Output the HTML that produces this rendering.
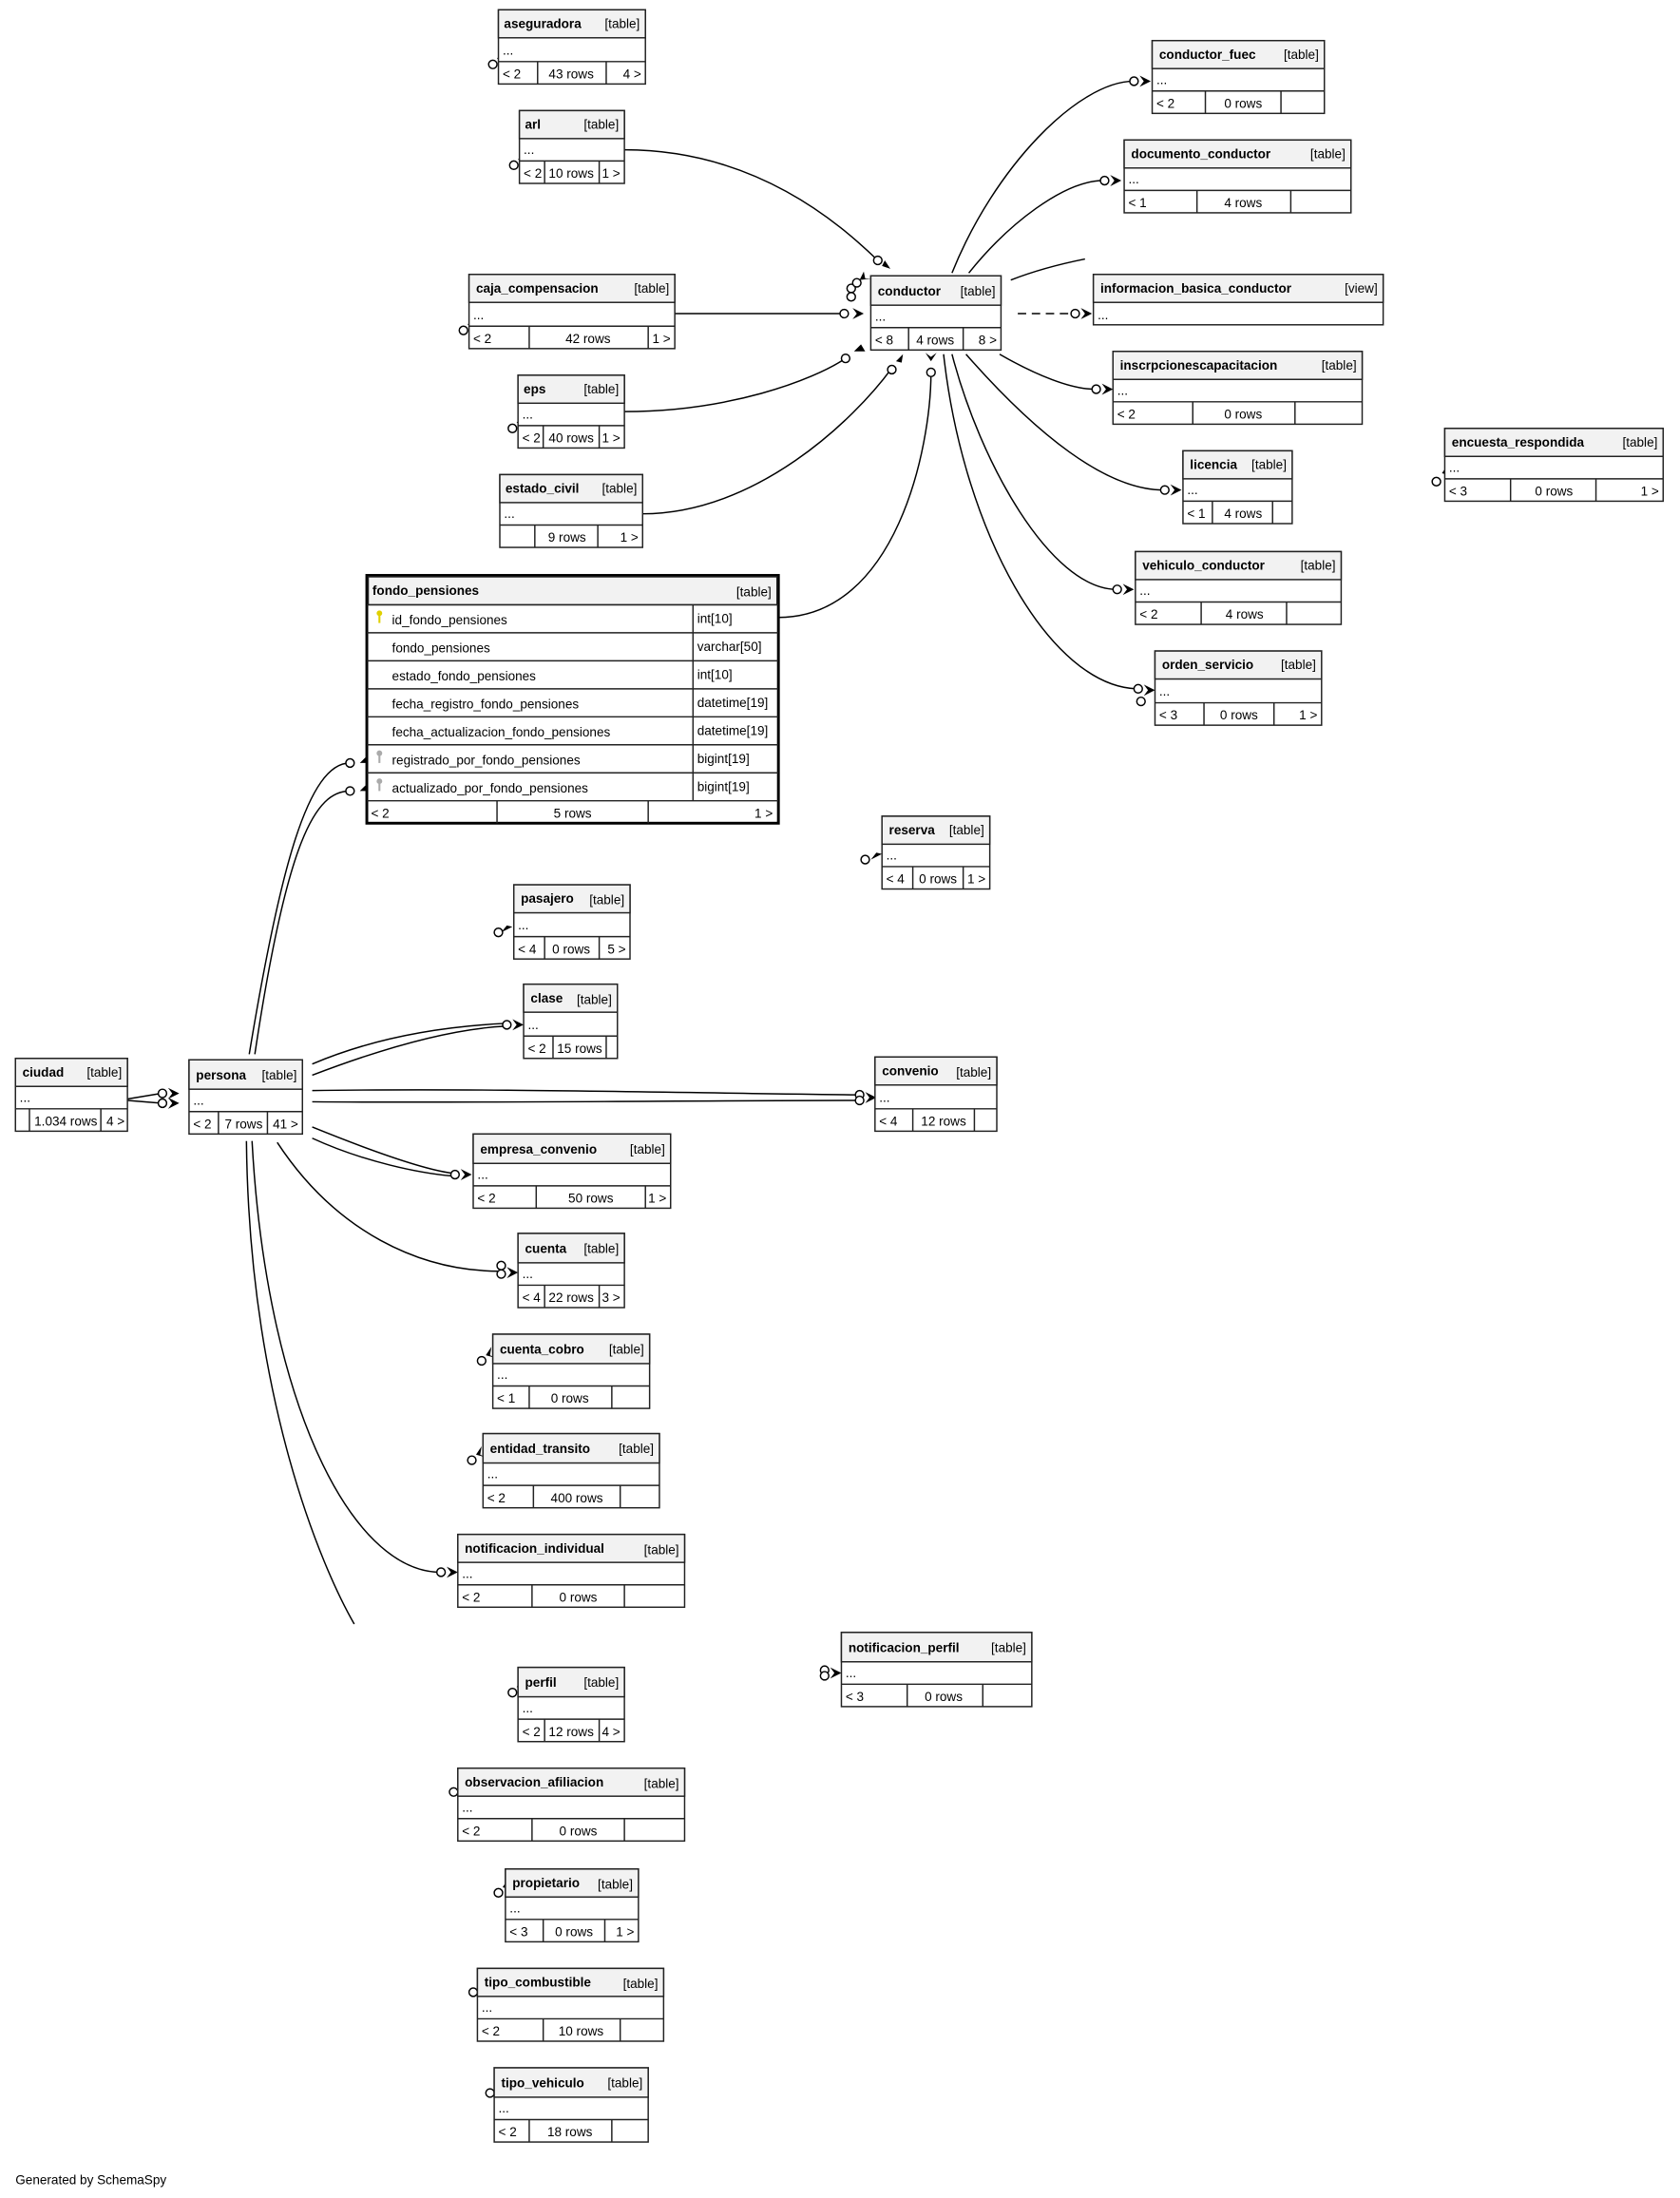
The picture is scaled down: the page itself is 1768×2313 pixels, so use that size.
<!DOCTYPE html>
<html><head><meta charset="utf-8"><style>
html,body{margin:0;padding:0;background:#fff;}
svg{display:block;}
text{font-family:"Liberation Sans","DejaVu Sans",sans-serif;font-size:9.2px;fill:#000;}
.n{font-weight:bold;}
.b{fill:#fff;stroke:#222;stroke-width:1;}
.h{fill:#f2f2f2;stroke:#222;stroke-width:1;}
.l{stroke:#222;stroke-width:1;fill:none;}
.e{stroke:#000;stroke-width:1;fill:none;}
.c{fill:#fff;stroke:#000;stroke-width:1;}
</style></head><body>
<svg width="1768" height="2313" viewBox="0 0 1200 1570" xmlns="http://www.w3.org/2000/svg">
<rect width="1200" height="1570" fill="#fff"/>

<g class="e">
<path d="M446,107 C540,107 600,160 627,186"/>
<path d="M482,224 L603,224"/>
<path d="M446,294 C520,294 580,272 604,256"/>
<path d="M459,367 C540,367 610,300 637,263"/>
<path d="M556,441 C640,441 665,320 665,266"/>
<path d="M680,195 C710,120 770,58 810,58"/>
<path d="M692,195 C720,160 760,129 788,129"/>
<path d="M722,200 C740,193 760,188 775,185"/>
<path d="M727,224 L767,224" stroke-dasharray="6,4"/>
<path d="M714,253 C740,268 765,278 782,278"/>
<path d="M690,253 C740,310 790,350 831,350"/>
<path d="M680,253 C700,330 750,420 797,421"/>
<path d="M674,253 C688,380 750,490 812,492"/>
<path d="M178,753 C200,620 220,545 250,545"/>
<path d="M182,753 C205,600 225,565 250,565"/>
<path d="M91,785 L115,781 M91,786 L115,788"/>
<path d="M223,760 C270,740 320,733 361,731"/>
<path d="M223,768 C270,750 320,735 361,733"/>
<path d="M223,779 C350,777 500,781 612,782"/>
<path d="M223,787 C350,788 500,786 612,786"/>
<path d="M223,805 C260,820 300,835 323,838"/>
<path d="M223,813 C260,830 300,838 323,840"/>
<path d="M198,816 C240,880 300,908 357,908"/>
<path d="M180,815 C190,1000 250,1122 314,1123"/>
<path d="M176,815 C178,1000 230,1120 253,1160"/>
</g>
<g class="c">
<circle cx="352" cy="46" r="3"/><circle cx="367" cy="118" r="3"/>
<circle cx="627" cy="186" r="3"/><circle cx="608" cy="206" r="3"/><circle cx="608" cy="212" r="3"/><circle cx="612" cy="202" r="3"/>
<circle cx="603" cy="224" r="3"/><circle cx="604" cy="256" r="3"/><circle cx="637" cy="264" r="3"/><circle cx="665" cy="266" r="3"/>
<circle cx="331" cy="236" r="3"/><circle cx="366" cy="306" r="3"/>
<circle cx="810" cy="58" r="3"/><circle cx="789" cy="129" r="3"/><circle cx="768" cy="224" r="3"/><circle cx="783" cy="278" r="3"/>
<circle cx="832" cy="350" r="3"/><circle cx="798" cy="421" r="3"/><circle cx="813" cy="492" r="3"/><circle cx="815" cy="501" r="3"/>
<circle cx="1026" cy="344" r="3"/>
<circle cx="250" cy="545" r="3"/><circle cx="250" cy="565" r="3"/>
<circle cx="618" cy="614" r="3"/><circle cx="356" cy="666" r="3"/>
<circle cx="362" cy="732" r="3"/><circle cx="116" cy="781" r="3"/><circle cx="116" cy="788" r="3"/>
<circle cx="614" cy="782" r="3"/><circle cx="614" cy="786" r="3"/><circle cx="325" cy="839" r="3"/>
<circle cx="358" cy="904" r="3"/><circle cx="358" cy="910" r="3"/>
<circle cx="344" cy="972" r="3"/><circle cx="337" cy="1043" r="3"/><circle cx="315" cy="1123" r="3"/>
<circle cx="589" cy="1193" r="3"/><circle cx="589" cy="1197" r="3"/>
<circle cx="366" cy="1209" r="3"/><circle cx="324" cy="1280" r="3"/><circle cx="356" cy="1352" r="3"/>
<circle cx="338" cy="1423" r="3"/><circle cx="350" cy="1495" r="3"/>
</g>
<g fill="#000">
<path d="M355,42 l4,-6 l-1,6 l4,2z"/><path d="M370,114 l4,-6 l-1,6 l4,2z"/>
<path d="M630,190 l6,2 l-4,-6z"/><path d="M614,200 l3,-6 l1,5 l5,0z"/><path d="M617,224 l-8,-4 l3,4 l-3,4z"/>
<path d="M618,251 l-8,0 l5,-5z"/><path d="M640,258 l5,-5 l-1,6z"/><path d="M665,258 l-4,-6 l4,3 l4,-3z"/>
<path d="M334,232 l4,-6 l-1,6 l4,2z"/><path d="M369,302 l4,-6 l-1,6 l4,2z"/>
<path d="M822,58 l-8,-4 l3,4 l-3,4z"/><path d="M801,129 l-8,-4 l3,4 l-3,4z"/><path d="M780,224 l-8,-4 l3,4 l-3,4z"/>
<path d="M795,278 l-8,-4 l3,4 l-3,4z"/><path d="M844,350 l-8,-4 l3,4 l-3,4z"/><path d="M810,421 l-8,-4 l3,4 l-3,4z"/>
<path d="M825,493 l-8,-4 l3,4 l-3,4z"/><path d="M1030,338 l4,-6 l-1,6 l4,2z"/>
<path d="M261,541 l-4,4 l5,0z"/><path d="M261,561 l-4,4 l5,0z"/>
<path d="M630,610 l-8,4 l4,-5z"/><path d="M366,662 l-8,4 l4,-5z"/>
<path d="M374,732 l-8,-4 l3,4 l-3,4z"/><path d="M128,781 l-8,-4 l3,4 l-3,4z"/><path d="M128,788 l-8,-4 l3,4 l-3,4z"/>
<path d="M626,784 l-8,-4 l3,4 l-3,4z"/><path d="M337,839 l-8,-4 l3,4 l-3,4z"/><path d="M370,909 l-8,-4 l3,4 l-3,4z"/>
<path d="M347,968 l4,-6 l-1,6 l4,2z"/><path d="M340,1039 l4,-6 l-1,6 l4,2z"/><path d="M327,1123 l-8,-4 l3,4 l-3,4z"/>
<path d="M601,1195 l-8,-4 l3,4 l-3,4z"/><path d="M369,1205 l4,-6 l-1,6 l4,2z"/><path d="M327,1276 l4,-6 l-1,6 l4,2z"/>
<path d="M359,1348 l4,-6 l-1,6 l4,2z"/><path d="M341,1419 l4,-6 l-1,6 l4,2z"/><path d="M353,1491 l4,-6 l-1,6 l4,2z"/>
</g>

<g><rect class="b" x="356" y="7" width="105" height="53"/><rect class="h" x="356" y="7" width="105" height="20"/><path class="l" d="M356,44H461M384,44V60M433,44V60"/>
<text class="n" x="360" y="20">aseguradora</text><text x="457" y="20" text-anchor="end">[table]</text><text x="359" y="39">...</text>
<text x="359" y="56">&lt; 2</text><text x="408" y="56" text-anchor="middle">43 rows</text><text x="458" y="56" text-anchor="end">4 &gt;</text></g>
<g><rect class="b" x="371" y="79" width="75" height="52"/><rect class="h" x="371" y="79" width="75" height="20"/><path class="l" d="M371,115H446M389,115V131M428,115V131"/>
<text class="n" x="375" y="92">arl</text><text x="442" y="92" text-anchor="end">[table]</text><text x="374" y="110">...</text>
<text x="374" y="127">&lt; 2</text><text x="408" y="127" text-anchor="middle">10 rows</text><text x="443" y="127" text-anchor="end">1 &gt;</text></g>
<g><rect class="b" x="823" y="29" width="123" height="52"/><rect class="h" x="823" y="29" width="123" height="20"/><path class="l" d="M823,65H946M861,65V81M915,65V81"/>
<text class="n" x="828" y="42">conductor_fuec</text><text x="942" y="42" text-anchor="end">[table]</text><text x="826" y="60">...</text>
<text x="826" y="77">&lt; 2</text><text x="888" y="77" text-anchor="middle">0 rows</text></g>
<g><rect class="b" x="803" y="100" width="162" height="52"/><rect class="h" x="803" y="100" width="162" height="20"/><path class="l" d="M803,136H965M855,136V152M922,136V152"/>
<text class="n" x="808" y="113">documento_conductor</text><text x="961" y="113" text-anchor="end">[table]</text><text x="806" y="131">...</text>
<text x="806" y="148">&lt; 1</text><text x="888" y="148" text-anchor="middle">4 rows</text></g>
<g><rect class="b" x="335" y="196" width="147" height="53"/><rect class="h" x="335" y="196" width="147" height="20"/><path class="l" d="M335,233H482M378,233V249M463,233V249"/>
<text class="n" x="340" y="209">caja_compensacion</text><text x="478" y="209" text-anchor="end">[table]</text><text x="338" y="228">...</text>
<text x="338" y="245">&lt; 2</text><text x="420" y="245" text-anchor="middle">42 rows</text><text x="479" y="245" text-anchor="end">1 &gt;</text></g>
<g><rect class="b" x="622" y="197" width="93" height="53"/><rect class="h" x="622" y="197" width="93" height="21"/><path class="l" d="M622,234H715M649,234V250M688,234V250"/>
<text class="n" x="627" y="211">conductor</text><text x="711" y="211" text-anchor="end">[table]</text><text x="625" y="229">...</text>
<text x="625" y="246">&lt; 8</text><text x="668" y="246" text-anchor="middle">4 rows</text><text x="712" y="246" text-anchor="end">8 &gt;</text></g>
<g><rect class="b" x="781" y="196" width="207" height="36"/><rect class="h" x="781" y="196" width="207" height="20"/>
<text class="n" x="786" y="209">informacion_basica_conductor</text><text x="984" y="209" text-anchor="end">[view]</text><text x="784" y="228">...</text></g>
<g><rect class="b" x="370" y="268" width="76" height="52"/><rect class="h" x="370" y="268" width="76" height="20"/><path class="l" d="M370,304H446M388,304V320M428,304V320"/>
<text class="n" x="374" y="281">eps</text><text x="442" y="281" text-anchor="end">[table]</text><text x="373" y="299">...</text>
<text x="373" y="316">&lt; 2</text><text x="408" y="316" text-anchor="middle">40 rows</text><text x="443" y="316" text-anchor="end">1 &gt;</text></g>
<g><rect class="b" x="795" y="251" width="178" height="52"/><rect class="h" x="795" y="251" width="178" height="20"/><path class="l" d="M795,287H973M852,287V303M925,287V303"/>
<text class="n" x="800" y="264">inscrpcionescapacitacion</text><text x="969" y="264" text-anchor="end">[table]</text><text x="798" y="282">...</text>
<text x="798" y="299">&lt; 2</text><text x="888" y="299" text-anchor="middle">0 rows</text></g>
<g><rect class="b" x="1032" y="306" width="156" height="52"/><rect class="h" x="1032" y="306" width="156" height="20"/><path class="l" d="M1032,342H1188M1079,342V358M1140,342V358"/>
<text class="n" x="1037" y="319">encuesta_respondida</text><text x="1184" y="319" text-anchor="end">[table]</text><text x="1035" y="337">...</text>
<text x="1035" y="354">&lt; 3</text><text x="1110" y="354" text-anchor="middle">0 rows</text><text x="1185" y="354" text-anchor="end">1 &gt;</text></g>
<g><rect class="b" x="845" y="322" width="78" height="52"/><rect class="h" x="845" y="322" width="78" height="20"/><path class="l" d="M845,358H923M866,358V374M909,358V374"/>
<text class="n" x="850" y="335">licencia</text><text x="919" y="335" text-anchor="end">[table]</text><text x="848" y="353">...</text>
<text x="848" y="370">&lt; 1</text><text x="888" y="370" text-anchor="middle">4 rows</text></g>
<g><rect class="b" x="357" y="339" width="102" height="52"/><rect class="h" x="357" y="339" width="102" height="20"/><path class="l" d="M357,375H459M382,375V391M427,375V391"/>
<text class="n" x="361" y="352">estado_civil</text><text x="455" y="352" text-anchor="end">[table]</text><text x="360" y="370">...</text>
<text x="405" y="387" text-anchor="middle">9 rows</text><text x="456" y="387" text-anchor="end">1 &gt;</text></g>
<g><rect class="b" x="811" y="394" width="147" height="52"/><rect class="h" x="811" y="394" width="147" height="20"/><path class="l" d="M811,430H958M858,430V446M919,430V446"/>
<text class="n" x="816" y="407">vehiculo_conductor</text><text x="954" y="407" text-anchor="end">[table]</text><text x="814" y="425">...</text>
<text x="814" y="442">&lt; 2</text><text x="889" y="442" text-anchor="middle">4 rows</text></g>
<g><rect class="b" x="825" y="465" width="119" height="53"/><rect class="h" x="825" y="465" width="119" height="20"/><path class="l" d="M825,502H944M860,502V518M910,502V518"/>
<text class="n" x="830" y="478">orden_servicio</text><text x="940" y="478" text-anchor="end">[table]</text><text x="828" y="497">...</text>
<text x="828" y="514">&lt; 3</text><text x="885" y="514" text-anchor="middle">0 rows</text><text x="941" y="514" text-anchor="end">1 &gt;</text></g>
<g><rect class="b" x="262" y="411" width="294" height="177" style="stroke-width:2;stroke:#000"/><rect class="h" x="263" y="412" width="292" height="20"/>
<path class="l" d="M262,432H556M262,452H556M262,472H556M262,492H556M262,512H556M262,532H556M262,552H556M262,572H556M495,432V572M355,572V588M463,572V588"/>
<text class="n" x="266" y="425">fondo_pensiones</text><text x="551" y="426" text-anchor="end">[table]</text>
<text x="280" y="446">id_fondo_pensiones</text><text x="498" y="445">int[10]</text>
<text x="280" y="466">fondo_pensiones</text><text x="498" y="465">varchar[50]</text>
<text x="280" y="486">estado_fondo_pensiones</text><text x="498" y="485">int[10]</text>
<text x="280" y="506">fecha_registro_fondo_pensiones</text><text x="498" y="505">datetime[19]</text>
<text x="280" y="526">fecha_actualizacion_fondo_pensiones</text><text x="498" y="525">datetime[19]</text>
<text x="280" y="546">registrado_por_fondo_pensiones</text><text x="498" y="545">bigint[19]</text>
<text x="280" y="566">actualizado_por_fondo_pensiones</text><text x="498" y="565">bigint[19]</text>
<text x="265" y="584">&lt; 2</text><text x="409" y="584" text-anchor="middle">5 rows</text><text x="552" y="584" text-anchor="end">1 &gt;</text>
<circle cx="271" cy="438" r="2" fill="#e0d000"/><rect x="270.3" y="439" width="1.4" height="6" fill="#e0d000"/>
<circle cx="271" cy="538" r="2" fill="#aaa"/><rect x="270.3" y="539" width="1.4" height="6" fill="#aaa"/>
<circle cx="271" cy="558" r="2" fill="#aaa"/><rect x="270.3" y="559" width="1.4" height="6" fill="#aaa"/></g>
<g><rect class="b" x="630" y="583" width="77" height="52"/><rect class="h" x="630" y="583" width="77" height="20"/><path class="l" d="M630,619H707M652,619V635M688,619V635"/>
<text class="n" x="635" y="596">reserva</text><text x="703" y="596" text-anchor="end">[table]</text><text x="633" y="614">...</text>
<text x="633" y="631">&lt; 4</text><text x="670" y="631" text-anchor="middle">0 rows</text><text x="704" y="631" text-anchor="end">1 &gt;</text></g>
<g><rect class="b" x="367" y="632" width="83" height="53"/><rect class="h" x="367" y="632" width="83" height="20"/><path class="l" d="M367,669H450M389,669V685M428,669V685"/>
<text class="n" x="372" y="645">pasajero</text><text x="446" y="646" text-anchor="end">[table]</text><text x="370" y="664">...</text>
<text x="370" y="681">&lt; 4</text><text x="408" y="681" text-anchor="middle">0 rows</text><text x="447" y="681" text-anchor="end">5 &gt;</text></g>
<g><rect class="b" x="374" y="703" width="67" height="53"/><rect class="h" x="374" y="703" width="67" height="20"/><path class="l" d="M374,740H441M395,740V756M433,740V756"/>
<text class="n" x="379" y="716">clase</text><text x="437" y="717" text-anchor="end">[table]</text><text x="377" y="735">...</text>
<text x="377" y="752">&lt; 2</text><text x="414" y="752" text-anchor="middle">15 rows</text></g>
<g><rect class="b" x="11" y="756" width="80" height="52"/><rect class="h" x="11" y="756" width="80" height="20"/><path class="l" d="M11,792H91M21,792V808M72,792V808"/>
<text class="n" x="16" y="769">ciudad</text><text x="87" y="769" text-anchor="end">[table]</text><text x="14" y="787">...</text>
<text x="47" y="804" text-anchor="middle">1.034 rows</text><text x="89" y="804" text-anchor="end">4 &gt;</text></g>
<g><rect class="b" x="135" y="757" width="81" height="53"/><rect class="h" x="135" y="757" width="81" height="21"/><path class="l" d="M135,794H216M156,794V810M191,794V810"/>
<text class="n" x="140" y="771">persona</text><text x="212" y="771" text-anchor="end">[table]</text><text x="138" y="789">...</text>
<text x="138" y="806">&lt; 2</text><text x="174" y="806" text-anchor="middle">7 rows</text><text x="213" y="806" text-anchor="end">41 &gt;</text></g>
<g><rect class="b" x="625" y="755" width="87" height="53"/><rect class="h" x="625" y="755" width="87" height="20"/><path class="l" d="M625,792H712M652,792V808M696,792V808"/>
<text class="n" x="630" y="768">convenio</text><text x="708" y="769" text-anchor="end">[table]</text><text x="628" y="787">...</text>
<text x="628" y="804">&lt; 4</text><text x="674" y="804" text-anchor="middle">12 rows</text></g>
<g><rect class="b" x="338" y="810" width="141" height="53"/><rect class="h" x="338" y="810" width="141" height="21"/><path class="l" d="M338,847H479M383,847V863M461,847V863"/>
<text class="n" x="343" y="824">empresa_convenio</text><text x="475" y="824" text-anchor="end">[table]</text><text x="341" y="842">...</text>
<text x="341" y="859">&lt; 2</text><text x="422" y="859" text-anchor="middle">50 rows</text><text x="476" y="859" text-anchor="end">1 &gt;</text></g>
<g><rect class="b" x="370" y="881" width="76" height="53"/><rect class="h" x="370" y="881" width="76" height="21"/><path class="l" d="M370,918H446M389,918V934M428,918V934"/>
<text class="n" x="375" y="895">cuenta</text><text x="442" y="895" text-anchor="end">[table]</text><text x="373" y="913">...</text>
<text x="373" y="930">&lt; 4</text><text x="408" y="930" text-anchor="middle">22 rows</text><text x="443" y="930" text-anchor="end">3 &gt;</text></g>
<g><rect class="b" x="352" y="953" width="112" height="53"/><rect class="h" x="352" y="953" width="112" height="21"/><path class="l" d="M352,990H464M378,990V1006M437,990V1006"/>
<text class="n" x="357" y="967">cuenta_cobro</text><text x="460" y="967" text-anchor="end">[table]</text><text x="355" y="985">...</text>
<text x="355" y="1002">&lt; 1</text><text x="407" y="1002" text-anchor="middle">0 rows</text></g>
<g><rect class="b" x="345" y="1024" width="126" height="53"/><rect class="h" x="345" y="1024" width="126" height="21"/><path class="l" d="M345,1061H471M381,1061V1077M443,1061V1077"/>
<text class="n" x="350" y="1038">entidad_transito</text><text x="467" y="1038" text-anchor="end">[table]</text><text x="348" y="1056">...</text>
<text x="348" y="1073">&lt; 2</text><text x="412" y="1073" text-anchor="middle">400 rows</text></g>
<g><rect class="b" x="327" y="1096" width="162" height="52"/><rect class="h" x="327" y="1096" width="162" height="20"/><path class="l" d="M327,1132H489M380,1132V1148M446,1132V1148"/>
<text class="n" x="332" y="1109">notificacion_individual</text><text x="485" y="1110" text-anchor="end">[table]</text><text x="330" y="1127">...</text>
<text x="330" y="1144">&lt; 2</text><text x="413" y="1144" text-anchor="middle">0 rows</text></g>
<g><rect class="b" x="601" y="1166" width="136" height="53"/><rect class="h" x="601" y="1166" width="136" height="21"/><path class="l" d="M601,1203H737M648,1203V1219M702,1203V1219"/>
<text class="n" x="606" y="1180">notificacion_perfil</text><text x="733" y="1180" text-anchor="end">[table]</text><text x="604" y="1198">...</text>
<text x="604" y="1215">&lt; 3</text><text x="674" y="1215" text-anchor="middle">0 rows</text></g>
<g><rect class="b" x="370" y="1191" width="76" height="53"/><rect class="h" x="370" y="1191" width="76" height="21"/><path class="l" d="M370,1228H446M389,1228V1244M428,1228V1244"/>
<text class="n" x="375" y="1205">perfil</text><text x="442" y="1205" text-anchor="end">[table]</text><text x="373" y="1223">...</text>
<text x="373" y="1240">&lt; 2</text><text x="408" y="1240" text-anchor="middle">12 rows</text><text x="443" y="1240" text-anchor="end">4 &gt;</text></g>
<g><rect class="b" x="327" y="1263" width="162" height="52"/><rect class="h" x="327" y="1263" width="162" height="20"/><path class="l" d="M327,1299H489M380,1299V1315M446,1299V1315"/>
<text class="n" x="332" y="1276">observacion_afiliacion</text><text x="485" y="1277" text-anchor="end">[table]</text><text x="330" y="1294">...</text>
<text x="330" y="1311">&lt; 2</text><text x="413" y="1311" text-anchor="middle">0 rows</text></g>
<g><rect class="b" x="361" y="1335" width="95" height="52"/><rect class="h" x="361" y="1335" width="95" height="20"/><path class="l" d="M361,1371H456M388,1371V1387M432,1371V1387"/>
<text class="n" x="366" y="1348">propietario</text><text x="452" y="1349" text-anchor="end">[table]</text><text x="364" y="1366">...</text>
<text x="364" y="1383">&lt; 3</text><text x="410" y="1383" text-anchor="middle">0 rows</text><text x="453" y="1383" text-anchor="end">1 &gt;</text></g>
<g><rect class="b" x="341" y="1406" width="133" height="52"/><rect class="h" x="341" y="1406" width="133" height="20"/><path class="l" d="M341,1442H474M388,1442V1458M443,1442V1458"/>
<text class="n" x="346" y="1419">tipo_combustible</text><text x="470" y="1420" text-anchor="end">[table]</text><text x="344" y="1437">...</text>
<text x="344" y="1454">&lt; 2</text><text x="415" y="1454" text-anchor="middle">10 rows</text></g>
<g><rect class="b" x="353" y="1477" width="110" height="53"/><rect class="h" x="353" y="1477" width="110" height="21"/><path class="l" d="M353,1514H463M378,1514V1530M437,1514V1530"/>
<text class="n" x="358" y="1491">tipo_vehiculo</text><text x="459" y="1491" text-anchor="end">[table]</text><text x="356" y="1509">...</text>
<text x="356" y="1526">&lt; 2</text><text x="407" y="1526" text-anchor="middle">18 rows</text></g>

<text x="11" y="1560">Generated by SchemaSpy</text>
</svg>
</body></html>
